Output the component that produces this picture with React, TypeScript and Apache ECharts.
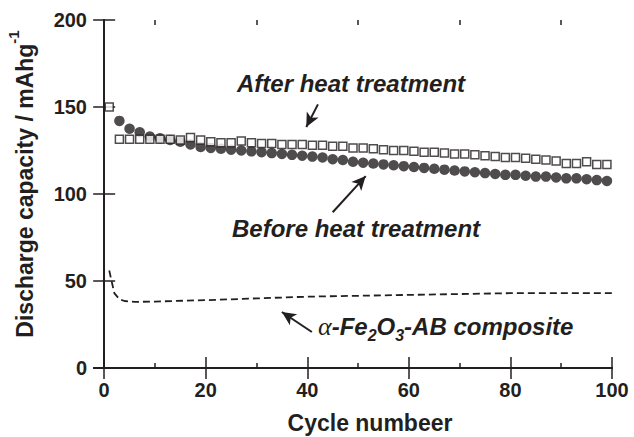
import React, { useEffect, useRef } from 'react';
import * as echarts from 'echarts';

const FONT = '"Liberation Sans", Arial, Helvetica, sans-serif';
const INK = '#231f20';

// After heat treatment (open squares)
const squareCycles = [1, 3, 5, 7, 9, 11, 13, 15, 17, 19, 21, 23, 25, 27, 29, 31, 33, 35, 37, 39, 41, 43, 45, 47, 49, 51, 53, 55, 57, 59, 61, 63, 65, 67, 69, 71, 73, 75, 77, 79, 81, 83, 85, 87, 89, 91, 93, 95, 97, 99];
const afterHeat = [150, 131.5, 131.5, 131.5, 131.5, 131.5, 131.5, 131, 132.5, 131, 130, 129.5, 129.5, 130.5, 129.5, 129, 129, 128.5, 128.5, 128.5, 128, 128, 127.5, 127.5, 126.5, 126.5, 126, 125.5, 125, 125, 124.5, 124, 124, 123.5, 123, 123, 122.5, 122, 121.5, 121, 121, 120.5, 120, 119.5, 119, 117.5, 117.5, 118.5, 117, 117];

// Before heat treatment (filled circles)
const circleCycles = [3, 5, 7, 9, 11, 13, 15, 17, 19, 21, 23, 25, 27, 29, 31, 33, 35, 37, 39, 41, 43, 45, 47, 49, 51, 53, 55, 57, 59, 61, 63, 65, 67, 69, 71, 73, 75, 77, 79, 81, 83, 85, 87, 89, 91, 93, 95, 97, 99];
const beforeHeat = [142, 137.5, 135.5, 133, 132, 131, 130, 128.5, 127, 126.5, 126, 125.5, 125, 124.5, 124, 123.5, 123, 122.5, 122, 121.5, 121, 120, 119.5, 118.5, 118, 117.5, 117, 116.5, 116, 115.5, 115, 114.5, 114, 113.5, 113, 112.5, 112, 111.5, 111, 111, 110.5, 110, 110, 109.5, 109, 109, 108.5, 108, 107.5];

// alpha-Fe2O3-AB composite (dashed line)
const compositeCycles = [1, 2, 3, 4, 6, 10, 20, 30, 40, 50, 60, 70, 80, 90, 100];
const compositeValues = [56, 43, 39.5, 38.5, 38, 38.2, 39, 40, 41, 41.5, 42, 42.5, 43, 43, 43];

const xMajorTicks = [0, 20, 40, 60, 80, 100];
const xMinorTicks = [10, 30, 50, 70, 90];
const yTicks = [0, 50, 100, 150, 200];

// Arrow annotations in data coordinates: [tail, head]
const arrowAfter = [[42.1, 151.5], [39.8, 138.5]];
const arrowBefore = [[45.0, 89.5], [51.5, 110.3]];
const arrowComposite = [[40.9, 20.7], [35.0, 32.2]];

export default function App() {
  const ref = useRef<HTMLDivElement>(null);
  useEffect(() => {
    document.body.style.margin = '0';
    if (!ref.current) return;
    const chart = echarts.init(ref.current, undefined, { renderer: 'svg' });
    const axisLine = { show: true, lineStyle: { color: INK, width: 2 } };
    const labelStyle = { color: INK, fontFamily: FONT, fontWeight: 'bold' as const, fontSize: 20 };
    const grid = { left: 94, right: 22, top: 20, bottom: 69, containLabel: false };
    const mkArrow = (a: number[][]) => [
      { coord: a[0], symbol: 'none' },
      { coord: a[1], symbol: 'arrow' },
    ];
    const option: any = {
      animation: false,
      backgroundColor: '#ffffff',
      grid: [grid, grid],
      xAxis: [
        {
          gridIndex: 0, type: 'value', position: 'bottom', min: -2, max: 100,
          axisLine, splitLine: { show: false },
          axisTick: { show: true, inside: true, length: 11, customValues: xMajorTicks, lineStyle: { color: INK, width: 1.5 } },
          axisLabel: { ...labelStyle, margin: 12, customValues: xMajorTicks },
        },
        {
          gridIndex: 0, type: 'value', position: 'top', min: -2, max: 100,
          axisLine, splitLine: { show: false },
          axisTick: { show: true, inside: true, length: 11, customValues: xMajorTicks, lineStyle: { color: INK, width: 1.5 } },
          axisLabel: { show: false },
        },
        {
          gridIndex: 1, type: 'value', position: 'bottom', min: -2, max: 100,
          axisLine: { show: false }, splitLine: { show: false },
          axisTick: { show: true, inside: true, length: 5, customValues: xMinorTicks, lineStyle: { color: INK, width: 1.5 } },
          axisLabel: { show: false },
        },
        {
          gridIndex: 1, type: 'value', position: 'top', min: -2, max: 100,
          axisLine: { show: false }, splitLine: { show: false },
          axisTick: { show: true, inside: true, length: 5, customValues: xMinorTicks, lineStyle: { color: INK, width: 1.5 } },
          axisLabel: { show: false },
        },
      ],
      yAxis: [
        {
          gridIndex: 0, type: 'value', position: 'left', min: 0, max: 200, interval: 50,
          axisLine, splitLine: { show: false },
          axisTick: { show: true, inside: true, length: 11, customValues: yTicks, lineStyle: { color: INK, width: 1.5 } },
          axisLabel: { ...labelStyle, margin: 7, customValues: yTicks },
        },
        {
          gridIndex: 0, type: 'value', position: 'right', min: 0, max: 200, interval: 50,
          axisLine, splitLine: { show: false },
          axisTick: { show: true, inside: true, length: 11, lineStyle: { color: INK, width: 1.5 } },
          axisLabel: { show: false },
        },
        {
          gridIndex: 1, type: 'value', min: 0, max: 200, show: false,
        },
      ],
      series: [
        {
          name: 'α-Fe2O3-AB composite', type: 'line', xAxisIndex: 0, yAxisIndex: 0,
          data: compositeCycles.map((c, i) => [c, compositeValues[i]]),
          showSymbol: false, symbol: 'none', silent: true,
          lineStyle: { color: INK, width: 1.8, type: [7, 4] },
          markLine: {
            silent: true, animation: false,
            symbolSize: [10, 14],
            label: { show: false },
            lineStyle: { color: INK, width: 2, type: 'solid' },
            emphasis: { disabled: true },
            data: [mkArrow(arrowComposite), mkArrow(arrowAfter), mkArrow(arrowBefore)],
          },
        },
        {
          name: 'Before heat treatment', type: 'scatter', xAxisIndex: 0, yAxisIndex: 0,
          data: circleCycles.map((c, i) => [c, beforeHeat[i]]),
          symbol: 'circle', symbolSize: 10.5, silent: true,
          itemStyle: { color: INK },
        },
        {
          name: 'After heat treatment', type: 'scatter', xAxisIndex: 0, yAxisIndex: 0,
          data: squareCycles.map((c, i) => [c, afterHeat[i]]),
          symbol: 'rect', symbolSize: 8, silent: true,
          itemStyle: { color: '#ffffff', borderColor: INK, borderWidth: 1.5 },
        },
      ],
      graphic: [
        {
          type: 'text', left: 237, top: 71, silent: true,
          style: { text: 'After heat treatment', fill: INK, font: `italic bold 24px ${FONT}` },
        },
        {
          type: 'text', left: 232, top: 216, silent: true,
          style: { text: 'Before heat treatment', fill: INK, font: `italic bold 24px ${FONT}` },
        },
        {
          type: 'text', left: 318, top: 310, silent: true,
          style: {
            text: '{a|α}{n|-Fe}{s|2}{n|O}{s|3}{n|-AB composite}',
            fill: INK,
            rich: {
              a: { fontFamily: '"Liberation Serif", "Times New Roman", serif', fontStyle: 'italic', fontWeight: 'normal', fontSize: 26, lineHeight: 36, fill: INK },
              n: { fontFamily: FONT, fontStyle: 'italic', fontWeight: 'bold', fontSize: 24, lineHeight: 36, fill: INK },
              s: { fontFamily: FONT, fontStyle: 'italic', fontWeight: 'bold', fontSize: 16, lineHeight: 16, padding: [17, 0, 0, 0], fill: INK },
            },
          },
        },
        {
          type: 'text', x: 370, y: 423, silent: true,
          style: { text: 'Cycle numbeer', fill: INK, font: `bold 23px ${FONT}`, textAlign: 'center', textVerticalAlign: 'middle' },
        },
        {
          type: 'text', x: 25, y: 184, rotation: Math.PI / 2, silent: true,
          style: {
            text: '{n|Discharge capacity / mAhg}{s|-1}',
            textAlign: 'center', textVerticalAlign: 'middle', fill: INK,
            rich: {
              n: { fontFamily: FONT, fontWeight: 'bold', fontSize: 23, lineHeight: 40, fill: INK },
              s: { fontFamily: FONT, fontWeight: 'bold', fontSize: 15, lineHeight: 15, padding: [0, 0, 24, 0], fill: INK },
            },
          },
        },
      ],
    };
    chart.setOption(option);
    return () => chart.dispose();
  }, []);
  return <div ref={ref} style={{ width: 634, height: 437 }} />;
}
